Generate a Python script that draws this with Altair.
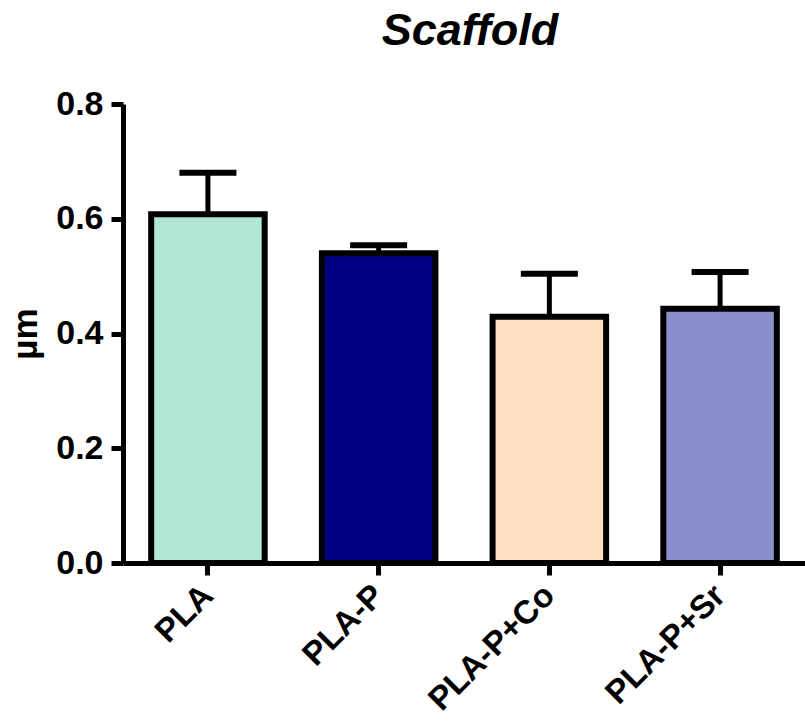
import altair as alt
import pandas as pd

groups = ["PLA", "PLA-P", "PLA-P+Co", "PLA-P+Sr"]
means = [0.608, 0.540, 0.429, 0.443]
errors = [0.072, 0.014, 0.075, 0.064]
colors = ["#B3E7D5", "#000080", "#FFDFC0", "#8A8FCC"]

df = pd.DataFrame({"group": groups, "mean": means, "err": errors})
df["upper"] = df["mean"] + df["err"]

FONT = "Liberation Sans"

x_scale = alt.Scale(paddingInner=0.335, paddingOuter=0.165)
x_enc = alt.X(
    "group:N",
    sort=groups,
    title=None,
    scale=x_scale,
    axis=alt.Axis(
        labelAngle=-45,
        labelFont=FONT,
        labelFontSize=33,
        labelFontWeight="bold",
        labelColor="black",
        labelPadding=15,
        domainColor="black",
        domainWidth=5,
        tickColor="black",
        tickWidth=5,
        tickSize=12,
        grid=False,
    ),
)
y_scale = alt.Scale(domain=[0, 0.8], nice=False, zero=True)

bars = alt.Chart(df).mark_bar(stroke="black", strokeWidth=6).encode(
    x=x_enc,
    y=alt.Y(
        "mean:Q",
        scale=y_scale,
        title="µm",
        axis=alt.Axis(
            values=[0, 0.2, 0.4, 0.6, 0.8],
            format=".1f",
            labelFont=FONT,
            labelFontSize=34,
            labelFontWeight="bold",
            labelColor="black",
            labelPadding=8,
            titleFont=FONT,
            titleFontSize=35,
            titleFontWeight="bold",
            titleColor="black",
            titlePadding=12,
            domainColor="black",
            domainWidth=5,
            tickColor="black",
            tickWidth=5,
            tickSize=12,
            grid=False,
        ),
    ),
    color=alt.Color("group:N", scale=alt.Scale(domain=groups, range=colors), legend=None),
)

stems = alt.Chart(df).mark_rule(color="black", strokeWidth=5).encode(
    x=alt.X("group:N", sort=groups),
    y=alt.Y("mean:Q", scale=y_scale),
    y2="upper:Q",
)

caps = alt.Chart(df).mark_tick(color="black", opacity=1, thickness=6, size=57).encode(
    x=alt.X("group:N", sort=groups),
    y=alt.Y("upper:Q", scale=y_scale),
)

chart = (
    alt.layer(stems, caps, bars)
    .properties(
        width=682,
        height=459,
        background="white",
        autosize=alt.AutoSizeParams(type="none"),
        padding={"left": 123, "top": 104, "right": 0, "bottom": 162},
        title=alt.TitleParams(
            "Scaffold",
            font=FONT,
            fontSize=45,
            fontWeight="bold",
            fontStyle="italic",
            color="black",
            anchor="middle",
            offset=33,
            dx=6,
        ),
    )
    .configure_view(strokeWidth=0)
    .configure_axis(grid=False)
)

chart.save("out.html", embed_options={"renderer": "svg", "actions": False})
